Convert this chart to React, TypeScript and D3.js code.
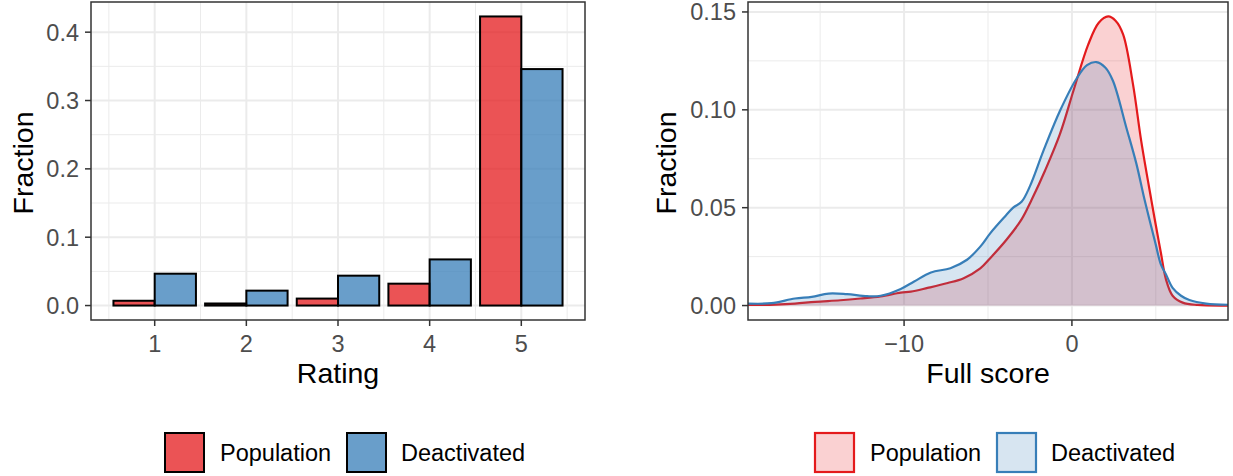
import React from 'react';
import * as d3 from 'd3';

// rating distribution (fraction per rating)
const ratings = [1, 2, 3, 4, 5];
const populationFrac = [0.007, 0.003, 0.0102, 0.032, 0.423];
const deactivatedFrac = [0.0466, 0.0218, 0.0437, 0.0675, 0.346];

// density of full score
const popScoreX = [-19.3, -17.7, -16.5, -15.3, -13.8, -12.6, -11.4, -10.2, -9.6, -8.6, -7.4, -6.45, -5.46, -4.87, -3.9, -3.0, -2.4, -1.6, -0.71, 0.1, 0.97, 1.6, 2.16, 2.6, 3.05, 3.64, 4.13, 4.73, 5.0, 5.3, 5.6, 6.0, 6.6, 7.5, 9.3];
const popScoreY = [0.0003, 0.0005, 0.001, 0.0019, 0.0027, 0.0036, 0.0047, 0.0066, 0.0071, 0.009, 0.0115, 0.014, 0.019, 0.0242, 0.0336, 0.044, 0.054, 0.069, 0.0877, 0.11, 0.1333, 0.1445, 0.1477, 0.1455, 0.1385, 0.113, 0.084, 0.054, 0.041, 0.027, 0.0135, 0.005, 0.0015, 0.0003, 0.0];
const deaScoreX = [-19.3, -17.9, -16.5, -15.5, -14.5, -13.4, -12.2, -11.4, -10.2, -9.4, -8.4, -7.24, -6.25, -5.46, -4.87, -4.0, -3.5, -3.0, -2.5, -1.7, -0.71, 0.28, 0.9, 1.46, 2.0, 2.45, 3.24, 3.84, 4.33, 5.0, 5.3, 5.6, 6.0, 6.5, 7.0, 8.0, 9.3];
const deaScoreY = [0.001, 0.0012, 0.0036, 0.0044, 0.0061, 0.0058, 0.0048, 0.005, 0.0085, 0.0123, 0.0169, 0.0191, 0.0234, 0.0301, 0.0369, 0.0454, 0.05, 0.053, 0.061, 0.079, 0.0995, 0.116, 0.1228, 0.1244, 0.1215, 0.1147, 0.091, 0.0725, 0.054, 0.031, 0.021, 0.016, 0.009, 0.005, 0.0028, 0.001, 0.0004];

const groups = ['Population', 'Deactivated'];
const colors = ['#E41A1C', '#377EB8'];

const leftTicksY = [0, 0.1, 0.2, 0.3, 0.4];
const leftMinorY = [0.05, 0.15, 0.25, 0.35];
const leftMinorX = [0.5, 1.5, 2.5, 3.5, 4.5, 5.5];
const rightTicksY = [0, 0.05, 0.1, 0.15];
const rightMinorY = [0.025, 0.075, 0.125];
const rightTicksX = [-10, 0];
const rightMinorX = [-15, -5, 5];

const FONT = 'Liberation Sans, Arial, Helvetica, sans-serif';
const GRID = '#EBEBEB';
const DARK = '#333333';
const TICK_SIZE = 23.5;
const TITLE_SIZE = 28.5;

function Frame({ x, y, xTicks, yTicks, xMinor, yMinor, xFmt, yFmt, xTitle, yTitle, yTitleX, children, clipId }) {
  const [x0, x1] = x.range();
  const [y0, y1] = y.range(); // y0 bottom, y1 top
  return (
    <g>
      <defs>
        <clipPath id={clipId}>
          <rect x={x0} y={y1} width={x1 - x0} height={y0 - y1} />
        </clipPath>
      </defs>
      <rect x={x0} y={y1} width={x1 - x0} height={y0 - y1} fill="white" />
      {yMinor.map(v => <line key={'ym' + v} x1={x0} x2={x1} y1={y(v)} y2={y(v)} stroke={GRID} strokeWidth={1} />)}
      {xMinor.map(v => <line key={'xm' + v} x1={x(v)} x2={x(v)} y1={y1} y2={y0} stroke={GRID} strokeWidth={1} />)}
      {yTicks.map(v => <line key={'yg' + v} x1={x0} x2={x1} y1={y(v)} y2={y(v)} stroke={GRID} strokeWidth={2} />)}
      {xTicks.map(v => <line key={'xg' + v} x1={x(v)} x2={x(v)} y1={y1} y2={y0} stroke={GRID} strokeWidth={2} />)}
      <g clipPath={`url(#${clipId})`}>{children}</g>
      <rect x={x0} y={y1} width={x1 - x0} height={y0 - y1} fill="none" stroke={DARK} strokeWidth={1.5} />
      {yTicks.map(v => (
        <g key={'yt' + v}>
          <line x1={x0 - 6} x2={x0} y1={y(v)} y2={y(v)} stroke={DARK} strokeWidth={1.5} />
          <text x={x0 - 12} y={y(v)} dy="0.36em" textAnchor="end" fontSize={TICK_SIZE} fill="#4D4D4D">{yFmt(v)}</text>
        </g>
      ))}
      {xTicks.map(v => (
        <g key={'xt' + v}>
          <line x1={x(v)} x2={x(v)} y1={y0} y2={y0 + 6} stroke={DARK} strokeWidth={1.5} />
          <text x={x(v)} y={y0 + 32} textAnchor="middle" fontSize={TICK_SIZE} fill="#4D4D4D">{xFmt(v)}</text>
        </g>
      ))}
      <text x={(x0 + x1) / 2} y={y0 + 63} textAnchor="middle" fontSize={TITLE_SIZE} fill="black">{xTitle}</text>
      <text transform={`translate(${yTitleX},${(y0 + y1) / 2 + 2}) rotate(-90)`} textAnchor="middle" fontSize={TITLE_SIZE} fill="black">{yTitle}</text>
    </g>
  );
}

export default function App() {
  // left panel: bar chart
  const barW = 0.45;
  const lx = d3.scaleLinear().domain([1 - barW - 0.245, 5 + barW + 0.245]).range([91, 585]);
  const lMax = d3.max([...populationFrac, ...deactivatedFrac]);
  const ly = d3.scaleLinear().domain([-0.05 * lMax, lMax * 1.05]).range([320, 2]);
  const series = [populationFrac, deactivatedFrac];

  // right panel: density
  const rx = d3.scaleLinear().domain([-19.3, 9.3]).range([748, 1228]);
  const rMax = d3.max([...popScoreY, ...deaScoreY]);
  const ry = d3.scaleLinear().domain([-0.05 * rMax, rMax * 1.05]).range([320, 2]);
  const dens = [
    d3.zip(popScoreX, popScoreY),
    d3.zip(deaScoreX, deaScoreY),
  ];
  const area = d3.area().x(d => rx(d[0])).y0(ry(0)).y1(d => ry(d[1])).curve(d3.curveCatmullRom.alpha(0.5));
  const line = d3.line().x(d => rx(d[0])).y(d => ry(d[1])).curve(d3.curveCatmullRom.alpha(0.5));

  const legendLeft = [{ key: 165, text: 220 }, { key: 347, text: 401 }];
  const legendRight = [{ key: 815, text: 870 }, { key: 997, text: 1051 }];

  return (
    <svg width={1233} height={476} style={{ position: 'absolute', left: 0, top: 0, background: 'white' }} fontFamily={FONT}>
      <rect width={1233} height={476} fill="white" />
      <Frame x={lx} y={ly} xTicks={ratings} yTicks={leftTicksY} xMinor={leftMinorX} yMinor={leftMinorY}
        xFmt={d3.format('d')} yFmt={d3.format('.1f')} xTitle="Rating" yTitle="Fraction" yTitleX={33} clipId="clipL">
        {series.map((vals, si) => vals.map((v, i) => {
          const xs = si === 0 ? ratings[i] - barW : ratings[i];
          return (
            <rect key={si + '-' + i} x={lx(xs)} y={ly(v)} width={lx(xs + barW) - lx(xs)} height={ly(0) - ly(v)}
              fill={colors[si]} fillOpacity={0.75} stroke="black" strokeWidth={2} />
          );
        }))}
      </Frame>
      <Frame x={rx} y={ry} xTicks={rightTicksX} yTicks={rightTicksY} xMinor={rightMinorX} yMinor={rightMinorY}
        xFmt={v => (v < 0 ? '\u2212' + Math.abs(v) : String(v))} yFmt={d3.format('.2f')} xTitle="Full score" yTitle="Fraction" yTitleX={676} clipId="clipR">
        {dens.map((pts, si) => (
          <g key={si}>
            <path d={area(pts)} fill={colors[si]} fillOpacity={0.2} />
            <path d={line(pts)} fill="none" stroke={colors[si]} strokeWidth={2.2} />
          </g>
        ))}
      </Frame>
      {groups.map((g, i) => (
        <g key={'ll' + g}>
          <rect x={legendLeft[i].key} y={433} width={39} height={39} fill={colors[i]} fillOpacity={0.75} stroke="black" strokeWidth={2} />
          <text x={legendLeft[i].text} y={452.5} dy="0.36em" fontSize={TICK_SIZE} fill="black">{g}</text>
        </g>
      ))}
      {groups.map((g, i) => (
        <g key={'lr' + g}>
          <rect x={legendRight[i].key} y={433} width={39} height={39} fill={colors[i]} fillOpacity={0.2} stroke={colors[i]} strokeWidth={2.2} />
          <text x={legendRight[i].text} y={452.5} dy="0.36em" fontSize={TICK_SIZE} fill="black">{g}</text>
        </g>
      ))}
    </svg>
  );
}
